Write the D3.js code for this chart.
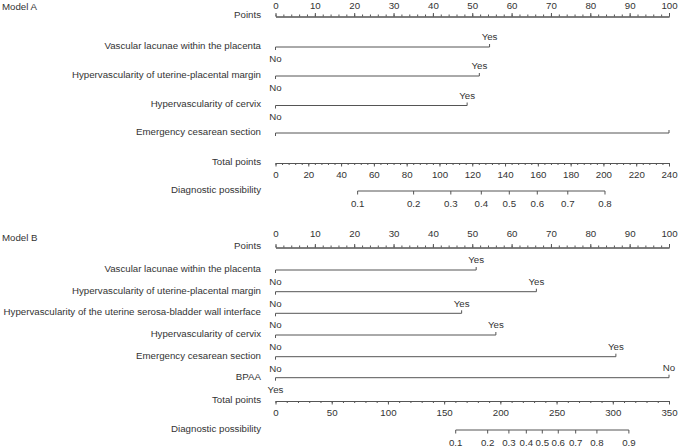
<!DOCTYPE html>
<html>
<head>
<meta charset="utf-8">
<script src="https://cdn.jsdelivr.net/npm/d3@7"></script>
<style>
  body { margin: 0; background: #fff; }
  svg text { font-family: "Liberation Sans", Arial, sans-serif; font-size: 9.7px; fill: #333; }
</style>
</head>
<body>
<div id="chart"></div>
<script>
// ---- data ----
const varsA = ["Vascular lacunae within the placenta", "Hypervascularity of uterine-placental margin",
  "Hypervascularity of cervix", "Emergency cesarean section"];
const levelsA = [["No", "Yes"], ["No", "Yes"], ["No", "Yes"], ["", ""]];
const pointsA = [[0, 54.4], [0, 51.8], [0, 48.7], [0, 100]];
const totalMaxA = 240;
const totalStepA = 20;
const totalMinorA = 4;
const probTicksA = [0.1, 0.2, 0.3, 0.4, 0.5, 0.6, 0.7, 0.8];
const total50A = 142.6;      // total points where possibility = 0.5
const perLogitA = 42.1;      // total points per logit unit

const varsB = ["Vascular lacunae within the placenta", "Hypervascularity of uterine-placental margin",
  "Hypervascularity of the uterine serosa-bladder wall interface", "Hypervascularity of cervix",
  "Emergency cesarean section", "BPAA"];
const levelsB = [["No", "Yes"], ["No", "Yes"], ["No", "Yes"], ["No", "Yes"], ["No", "Yes"], ["Yes", "No"]];
const pointsB = [[0, 51.0], [0, 66.3], [0, 47.3], [0, 56.0], [0, 86.5], [0, 100]];
const totalMaxB = 350;
const totalStepB = 50;
const totalMinorB = 10;
const probTicksB = [0.1, 0.2, 0.3, 0.4, 0.5, 0.6, 0.7, 0.8, 0.9];
const total50B = 237.3;
const perLogitB = 35.05;

const pointTicks = d3.range(0, 101, 10);
const pointMinor = d3.range(0, 101, 2);

// ---- layout ----
const W = 680, H = 448;
const x0 = 275.5, x1 = 669, labelX = 261;
const lineColor = "#555";
const fontSize = "9.7px";

const svg = d3.select("#chart").append("svg")
  .attr("width", W).attr("height", H);

const logit = p => Math.log(p / (1 - p));

function drawModel(title, titleY, vars, levels, points, rowsY, pointsY, totalY, diagY,
                   totalMax, totalStep, totalMinor, probTicks, total50, perLogit, ptsPad) {
  const g = svg.append("g");
  const xp = d3.scaleLinear().domain([0, 100]).range([x0, x1]);
  const xt = d3.scaleLinear().domain([0, totalMax]).range([x0, x1]);

  g.append("text").attr("x", 2).attr("y", titleY).attr("dy", "0.35em").text(title);

  // row titles
  const names = ["Points", ...vars, "Total points", "Diagnostic possibility"];
  const ys = [pointsY, ...rowsY, totalY, diagY];
  g.selectAll("text.rowlab").data(names).join("text")
    .attr("class", "rowlab")
    .attr("x", labelX).attr("y", (d, i) => ys[i] - 1.5)
    .attr("dy", "0.35em").attr("text-anchor", "end")
    .text(d => d);

  // points axis
  g.append("g").attr("transform", `translate(0,${pointsY})`)
    .call(d3.axisTop(xp).tickValues(pointMinor).tickSize(2).tickSizeOuter(0).tickFormat(""));
  g.append("g").attr("transform", `translate(0,${pointsY})`)
    .call(d3.axisTop(xp).tickValues(pointTicks).tickSize(3.5).tickSizeOuter(0).tickPadding(ptsPad));

  // variable lines
  vars.forEach((v, i) => {
    const y = rowsY[i];
    const pts = points[i];
    const lv = levels[i];
    const row = g.append("g");
    row.append("line")
      .attr("x1", xp(d3.min(pts))).attr("x2", xp(d3.max(pts)))
      .attr("y1", y).attr("y2", y);
    pts.forEach((p, j) => {
      // the higher-point level sits above the line, the other below
      const up = p === d3.max(pts);
      row.append("line")
        .attr("x1", xp(p)).attr("x2", xp(p))
        .attr("y1", y).attr("y2", up ? y - 3 : y + 3);
      if (lv[j]) {
        row.append("text")
          .attr("x", xp(p)).attr("y", up ? y - 10 : y + 11.5)
          .attr("dy", "0.35em").attr("text-anchor", "middle")
          .text(lv[j]);
      }
    });
  });

  // total points axis
  g.append("g").attr("transform", `translate(0,${totalY})`)
    .call(d3.axisBottom(xt).tickValues(d3.range(0, totalMax + 0.1, totalMinor))
      .tickSize(2).tickSizeOuter(0).tickFormat(""));
  g.append("g").attr("transform", `translate(0,${totalY})`)
    .call(d3.axisBottom(xt).tickValues(d3.range(0, totalMax + 0.1, totalStep))
      .tickSize(3.5).tickSizeOuter(0).tickPadding(5));

  // diagnostic possibility axis: logit scale tied to total points
  const xl = d3.scaleLinear()
    .domain([logit(probTicks[0]), logit(probTicks[probTicks.length - 1])])
    .range([xt(total50 + perLogit * logit(probTicks[0])),
            xt(total50 + perLogit * logit(probTicks[probTicks.length - 1]))]);
  const diag = g.append("g").attr("transform", `translate(0,${diagY})`);
  diag.append("line")
    .attr("x1", xl(logit(probTicks[0]))).attr("x2", xl(logit(probTicks[probTicks.length - 1])))
    .attr("y1", 0).attr("y2", 0);
  const dt = diag.selectAll("g.dt").data(probTicks).join("g")
    .attr("class", "dt")
    .attr("transform", d => `translate(${xl(logit(d))},0)`);
  dt.append("line").attr("y1", 0).attr("y2", 3.5);
  dt.append("text").attr("y", 13).attr("dy", "0.35em").attr("text-anchor", "middle")
    .text(d => d3.format(".1f")(d));

  g.selectAll("line").attr("stroke", lineColor).attr("stroke-width", 1);
  g.selectAll(".domain").attr("stroke", lineColor);
  g.selectAll(".tick line").attr("stroke", lineColor);
  g.selectAll(".tick text").attr("fill", "#333").style("font-size", fontSize)
    .style("font-family", '"Liberation Sans", Arial, sans-serif');
}

drawModel("Model A", 7, varsA, levelsA, pointsA, [47, 76, 105.5, 133], 16.5, 163, 191,
  totalMaxA, totalStepA, totalMinorA, probTicksA, total50A, perLogitA, 4.5);

drawModel("Model B", 238, varsB, levelsB, pointsB, [270, 291.7, 313.3, 335, 356.7, 377.7], 247.5, 401, 430,
  totalMaxB, totalStepB, totalMinorB, probTicksB, total50B, perLogitB, 7.5);
</script>
</body>
</html>
